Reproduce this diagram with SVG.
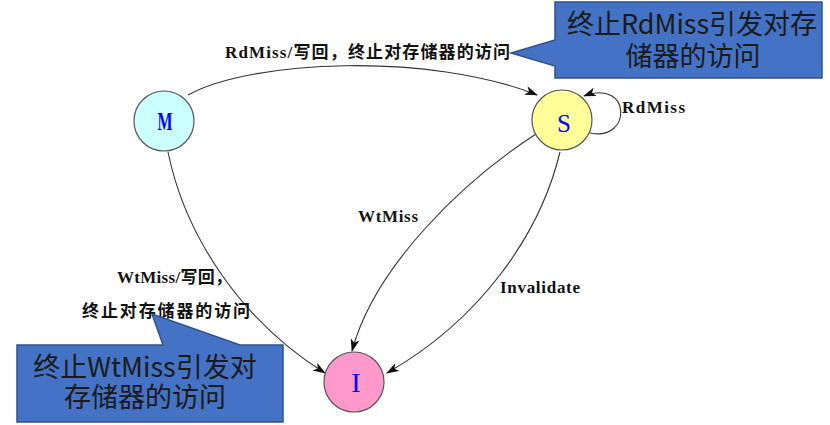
<svg xmlns="http://www.w3.org/2000/svg" width="830" height="425" viewBox="0 0 830 425">
<defs>
<marker id="arr" viewBox="0 0 13 9" markerWidth="13" markerHeight="9" refX="12" refY="4.5" orient="auto" markerUnits="userSpaceOnUse">
<path d="M0,0 L13,4.5 L0,9 L3.5,4.5 z" fill="#111"/>
</marker>
<style>
.node circle{stroke:#555;stroke-width:1.2}
.nl{font-family:"Liberation Serif","Times New Roman",serif;fill:#0000ff;text-anchor:middle}
.edge{fill:none;stroke:#333;stroke-width:1.1;marker-end:url(#arr)}
.lbl{font-family:"Liberation Serif","Noto Sans CJK SC",serif;font-weight:bold;font-size:17px;fill:#111}
.callout path{fill:#4472c4;stroke:#2f528f;stroke-width:1.5}
.ct{font-family:"Noto Sans CJK SC","Noto Sans",sans-serif;font-size:27px;fill:#1a1a1a;text-anchor:middle}
</style>
</defs>
<rect width="830" height="425" fill="#fff"/>
<g id="connectors">
<path class="edge" d="M188,95 C250,60 430,52 537,95"/>
<path class="edge" d="M590,133 C632,142 632,78 584,96"/>
<path class="edge" d="M168,152 C185,235 240,320 325,373"/>
<path class="edge" d="M536,134 C465,180 375,265 352,351"/>
<path class="edge" d="M560,152 C540,235 480,320 387,373"/>
</g>
<g id="node-M" class="node">
<circle cx="164" cy="121" r="30" fill="#ccffff"/>
<text class="nl" x="165" y="130" font-size="26" font-weight="bold" textLength="15" lengthAdjust="spacingAndGlyphs">M</text>
</g>
<g id="node-S" class="node">
<circle cx="562" cy="120" r="30" fill="#ffff99"/>
<text class="nl" x="564" y="132" font-size="25">S</text>
</g>
<g id="node-I" class="node">
<circle cx="354" cy="382" r="30" fill="#ff99cc"/>
<text class="nl" x="356" y="392" font-size="28">I</text>
</g>
<g id="labels">
<text class="lbl" x="225" y="58" textLength="285" lengthAdjust="spacing">RdMiss/写回，终止对存储器的访问</text>
<text class="lbl" x="622" y="113" textLength="63" lengthAdjust="spacing">RdMiss</text>
<text class="lbl" x="358" y="222" textLength="60" lengthAdjust="spacing">WtMiss</text>
<text class="lbl" x="500" y="293" textLength="80" lengthAdjust="spacing">Invalidate</text>
<text class="lbl" x="117" y="283" textLength="115" lengthAdjust="spacing">WtMiss/写回，</text>
<text class="lbl" x="82" y="317" textLength="168" lengthAdjust="spacing">终止对存储器的访问</text>
</g>
<g id="callout-rd" class="callout">
<path d="M555,2 L822,2 L822,78 L555,78 L555,66 L511,53 L555,40 Z"/>
<text class="ct" x="692" y="34">终止RdMiss引发对存<tspan x="693" dy="32">储器的访问</tspan></text>
</g>
<g id="callout-wt" class="callout">
<path d="M17,345 L163,345 L152,314 L240,345 L283,345 L283,422 L17,422 Z"/>
<text class="ct" x="145" y="377">终止WtMiss引发对<tspan x="145" dy="30">存储器的访问</tspan></text>
</g>
</svg>
